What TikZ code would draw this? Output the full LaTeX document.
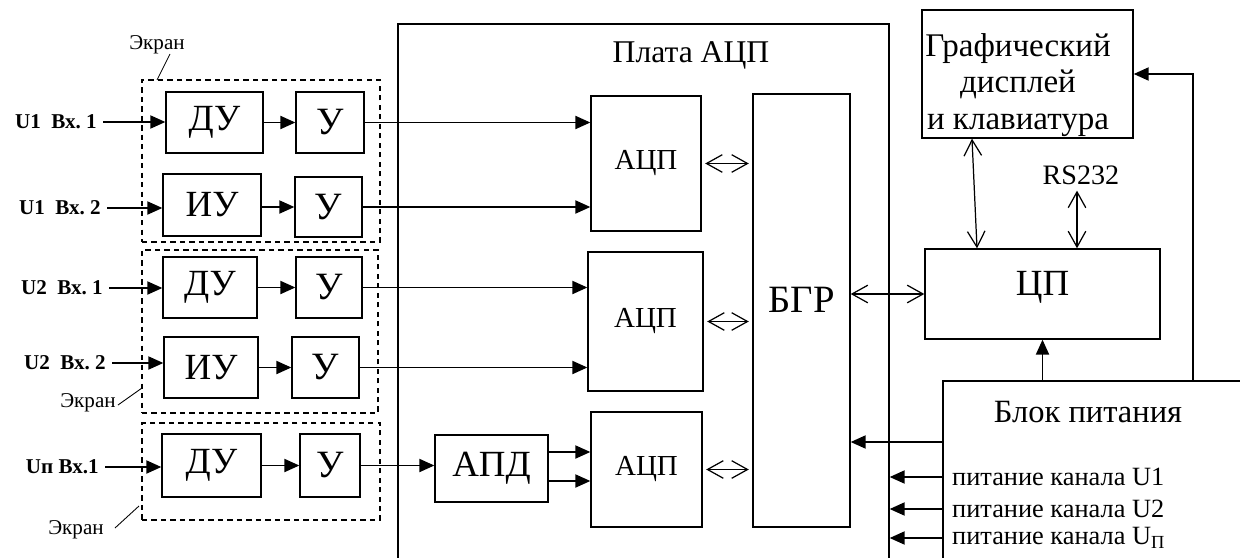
\documentclass[tikz,border=0pt]{standalone}
\usepackage{fontspec}
\setmainfont{Liberation Serif}
\usetikzlibrary{arrows.meta}
\newcommand{\razmer}[1]{\fontsize{#1}{\fpeval{1.1*#1}}\selectfont}
\tikzset{
  blok/.style={draw, line width=0.8pt, inner sep=0pt, font=\razmer{18}},
  razm/.style 2 args={minimum width=#1*0.2mm, minimum height=#2*0.2mm},
  ekran/.style={draw, dash pattern=on 3pt off 2.4pt, line width=0.8pt},
  vhod/.style={anchor=east, font=\razmer{12}\bfseries},
  podpis/.style={font=\razmer{12}},
  strelka/.style={-{Triangle[length=8.5pt,width=7.5pt]}, line width=0.75pt},
  dvunapr/.style={{Straight Barb[length=9pt,width=10pt]}-{Straight Barb[length=9pt,width=10pt]}, line width=0.7pt},
}
\begin{document}
\begin{tikzpicture}[x=0.2mm, y=-0.2mm]
  \useasboundingbox (0,0) rectangle (1240,558);
  % плата АЦП и блок питания уходят за край
  \node[blok, razm={491}{600}] (plata) at (643.5,324) {};
  \node[font=\razmer{18}] (plataT) at (691,55) {Плата АЦП};
  \node[blok, razm={400}{260}] (bp) at (1143,511) {};
  \node[font=\razmer{18.5}] (bpT) at (1088,412) {Блок питания};
  % экраны
  \node[ekran, razm={238}{162}] (ekr1) at (261,161) {};
  \node[ekran, razm={236}{163}] (ekr2) at (260,331.5) {};
  \node[ekran, razm={238}{97}] (ekr3) at (261,471.5) {};
  \node[podpis] (ek1) at (157,45) {Экран};
  \node[podpis] (ek2) at (88,403) {Экран};
  \node[podpis] (ek3) at (76,530) {Экран};
  \draw[line width=0.5pt] (170,54) -- (157,80);
  \draw[line width=0.5pt] (118,405) -- (142,388);
  \draw[line width=0.5pt] (115,528) -- (139,506);
  % усилители
  \node[blok, razm={97}{61}, font=\razmer{21}] (du1) at (214.5,122.5) {ДУ};
  \node[blok, razm={68}{61}, font=\razmer{22}] (us1) at (330,122.5) {У};
  \node[blok, razm={98}{62}, font=\razmer{21}] (iu1) at (212,205) {ИУ};
  \node[blok, razm={67}{60}, font=\razmer{22}] (us2) at (328.5,207) {У};
  \node[blok, razm={94}{61}, font=\razmer{21}] (du2) at (210,287.5) {ДУ};
  \node[blok, razm={66}{61}, font=\razmer{22}] (us3) at (329,287.5) {У};
  \node[blok, razm={94}{61}, font=\razmer{21}] (iu2) at (211,367.5) {ИУ};
  \node[blok, razm={67}{61}, font=\razmer{22}] (us4) at (325.5,367.5) {У};
  \node[blok, razm={99}{63}, font=\razmer{21}] (du3) at (211.5,465.5) {ДУ};
  \node[blok, razm={60}{63}, font=\razmer{22}] (us5) at (330,465.5) {У};
  % входы
  \node[vhod] (vh1) at (103,122) {U1\enspace Вх.~1};
  \node[vhod] (vh2) at (107,208) {U1\enspace Вх.~2};
  \node[vhod] (vh3) at (109,288) {U2\enspace Вх.~1};
  \node[vhod] (vh4) at (112,363) {U2\enspace Вх.~2};
  \node[vhod] (vh5) at (105,467) {Uп Вх.1};
  \draw[strelka] (vh1.east) -- (vh1.east -| du1.west);
  \draw[strelka] (vh2.east) -- (vh2.east -| iu1.west);
  \draw[strelka] (vh3.east) -- (vh3.east -| du2.west);
  \draw[strelka] (vh4.east) -- (vh4.east -| iu2.west);
  \draw[strelka] (vh5.east) -- (vh5.east -| du3.west);
  \draw[strelka] (du1) -- (us1);
  \draw[strelka] (iu1.east |- us2) -- (us2.west);
  \draw[strelka] (du2) -- (us3);
  \draw[strelka] (iu2.east |- us4) -- (us4.west);
  \draw[strelka] (du3) -- (us5);
  % АЦП, АПД, БГР
  \node[blok, razm={110}{135}, font=\razmer{16.5}] (acp1) at (646,163.5) {АЦП};
  \node[blok, razm={115}{139}, font=\razmer{16.5}] (acp2) at (645.5,321.5) {АЦП};
  \node[blok, razm={111}{115}, font=\razmer{16.5}] (acp3) at (646.5,469.5) {АЦП};
  \node[blok, razm={113}{67}, font=\razmer{21}] (apd) at (491.5,468.5) {АПД};
  \node[blok, razm={97}{433}] (bgr) at (801.5,310.5) {};
  \node[font=\razmer{22}] (bgrT) at (801.5,300) {БГР};
  \draw[strelka] (us1.east) -- (us1.east -| acp1.west);
  \draw[strelka] (us2.east) -- (us2.east -| acp1.west);
  \draw[strelka] (us3.east) -- (us3.east -| acp2.west);
  \draw[strelka] (us4.east) -- (us4.east -| acp2.west);
  \draw[strelka] (us5.east) -- (us5.east -| apd.west);
  \foreach \y in {452,481}
    \draw[strelka] (apd.east |- 0,\y) -- (acp3.west |- 0,\y);
  \foreach \a in {acp1,acp2,acp3}
    \draw[dvunapr, shorten <=2pt, shorten >=2pt] (\a.east) -- (\a.east -| bgr.west);
  % процессор и дисплей
  \node[blok, razm={235}{90}] (cp) at (1042.5,294) {};
  \node[font=\razmer{21}] (cpT) at (1042.5,287) {ЦП};
  \node[blok, razm={211}{128}] (disp) at (1027.5,74) {};
  \node[font=\razmer{18.8}, align=center] (dispT) at (1018,85) {Графический\\дисплей\\и клавиатура};
  \node[font=\razmer{16}] (rs) at (1081,175) {RS232};
  \draw[dvunapr] (bgr.east |- cp.west) -- (cp.west);
  \draw[dvunapr] (disp.south -| 972,0) -- (cp.north -| 977,0);
  \draw[dvunapr] (rs.south -| 1077,0) -- (cp.north -| 1077,0);
  % питание
  \draw[strelka] (bp.north -| cp.south) -- (cp.south);
  \draw[strelka] (bp.north -| 1193,0) |- (disp.east);
  \draw[strelka] (bp.west |- 0,442) -- (bgr.east |- 0,442);
  \foreach \y/\t in {477/U1,509/U2,538/U\textsubscript{П}} {
    \node[anchor=west, font=\razmer{15}] (pit\y) at (946,\y) {питание канала \t};
    \draw[strelka] (bp.west |- pit\y.west) -- (plata.east |- pit\y.west);
  }
\end{tikzpicture}
\end{document}
